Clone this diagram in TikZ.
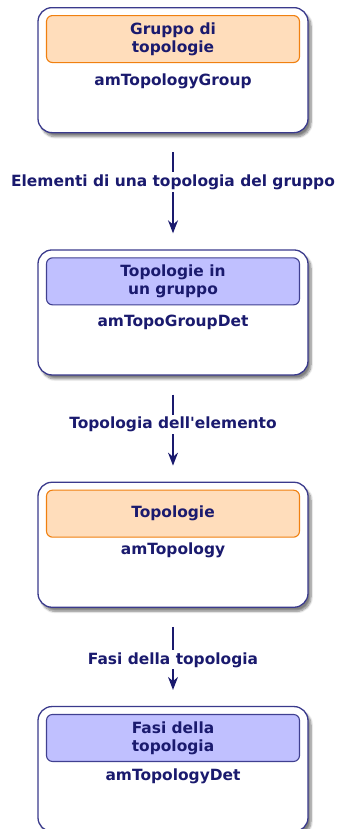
\documentclass[tikz,border=0pt]{standalone}
\usepackage{fontspec}
\setmainfont{DejaVu Sans}
\usetikzlibrary{arrows.meta, positioning, shadows.blur}

\definecolor{navy}{HTML}{1A1A6E}
\definecolor{frame}{HTML}{3A3A8C}
\definecolor{peach}{HTML}{FFDDBB}
\definecolor{peachline}{HTML}{F08010}
\definecolor{lilac}{HTML}{C0C0FF}
\definecolor{lilacline}{HTML}{404090}

\begin{document}
\begin{tikzpicture}[x=1bp, y=-1bp,
	table/.style={draw=frame, line width=1.3bp, fill=white, rounded corners=14bp, minimum width=270bp, minimum height=125bp, inner sep=0pt, blur shadow={shadow xshift=3bp, shadow yshift=-4bp, shadow blur steps=8, shadow opacity=50}},
	headorange/.style={draw=peachline, line width=1.1bp, fill=peach, rounded corners=6bp, minimum width=253bp, minimum height=47bp, align=center, inner sep=0pt},
	headblue/.style={draw=lilacline, line width=1.1bp, fill=lilac, rounded corners=6bp, minimum width=253bp, minimum height=47bp, align=center, inner sep=0pt},
	tablename/.style={inner sep=0pt},
	every node/.style={font=\bfseries\fontsize{15.5}{18}\selectfont, text=navy},
	link/.style={draw=navy, line width=1.2bp, -{Stealth[length=13bp, width=10bp]}, shorten <=19bp, shorten >=16bp},
	linklabel/.style={fill=white, inner sep=2bp}]
	\useasboundingbox (0,0) rectangle (341,829);

	% Tables
	\node[table, anchor=north] (grp) at (173,7) {};
	\node[table, below=116bp of grp] (grpdet) {};
	\node[table, below=106bp of grpdet] (topo) {};
	\node[table, below=98bp of topo] (topodet) {};

	% Headers
	\node[headorange, below=8bp of grp.north] (grphead) {Gruppo di\\topologie};
	\node[headblue, below=8bp of grpdet.north] (grpdethead) {Topologie in\\un gruppo};
	\node[headorange, below=8bp of topo.north] (topohead) {Topologie};
	\node[headblue, below=8bp of topodet.north] (topodethead) {Fasi della\\topologia};

	% Table names
	\node[tablename, below=10bp of grphead] (grpname) {amTopologyGroup};
	\node[tablename, below=9bp of grpdethead] (grpdetname) {amTopoGroupDet};
	\node[tablename, below=5bp of topohead] (toponame) {amTopology};
	\node[tablename, below=7bp of topodethead] (topodetname) {amTopologyDet};

	% Links
	\draw[link] (grp.south) -- (grpdet.north) node[linklabel, pos=0.42] {Elementi di una topologia del gruppo};
	\draw[link] (grpdet.south) -- (topo.north) node[linklabel, pos=0.46] {Topologia dell\textquotesingle elemento};
	\draw[link] (topo.south) -- (topodet.north) node[linklabel, pos=0.53] {Fasi della topologia};
\end{tikzpicture}
\end{document}
